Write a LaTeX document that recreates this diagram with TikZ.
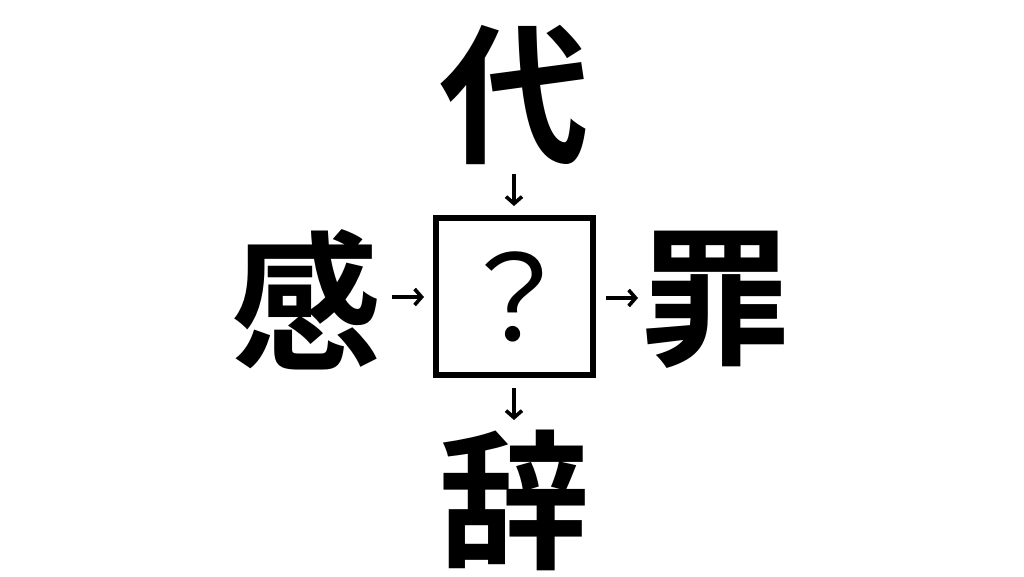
\documentclass[tikz,border=0pt]{standalone}
\usepackage{fontspec}
\usetikzlibrary{arrows.meta}
\newfontfamily\cjk{Noto Sans CJK JP}[BoldFont={Noto Sans CJK JP Bold}]
\begin{document}
\begin{tikzpicture}[x=1pt,y=-1pt,
  kanji/.style={font=\cjk\bfseries\fontsize{150}{150}\selectfont, inner sep=0pt, anchor=center},
  qbox/.style={draw=black, line width=6pt, minimum size=157pt, inner sep=0pt,
    font=\cjk\fontsize{118}{118}\selectfont},
  arr/.style={line width=3.6pt, -{Straight Barb[length=7pt,width=16pt,line width=3.6pt]}}]
\useasboundingbox (0,0) rectangle (1024,576);
\fill[white] (0,0) rectangle (1024,576);
\node[kanji] (top) at (514,95) {代};
\node[kanji] (left) at (306,300) {感};
\node[kanji] (right) at (715,300) {罪};
\node[kanji] (bottom) at (514,500) {辞};
\node[qbox] (q) at (514.5,296.5) {？};
\coordinate (t1) at (514,174); \coordinate (t2) at (514,206);
\coordinate (l1) at (392,297); \coordinate (l2) at (424,297);
\coordinate (r1) at (606,298); \coordinate (r2) at (638,298);
\coordinate (b1) at (514,388); \coordinate (b2) at (514,420);
\draw[arr] (t1) -- (t2);
\draw[arr] (l1) -- (l2);
\draw[arr] (r1) -- (r2);
\draw[arr] (b1) -- (b2);
\end{tikzpicture}
\end{document}
